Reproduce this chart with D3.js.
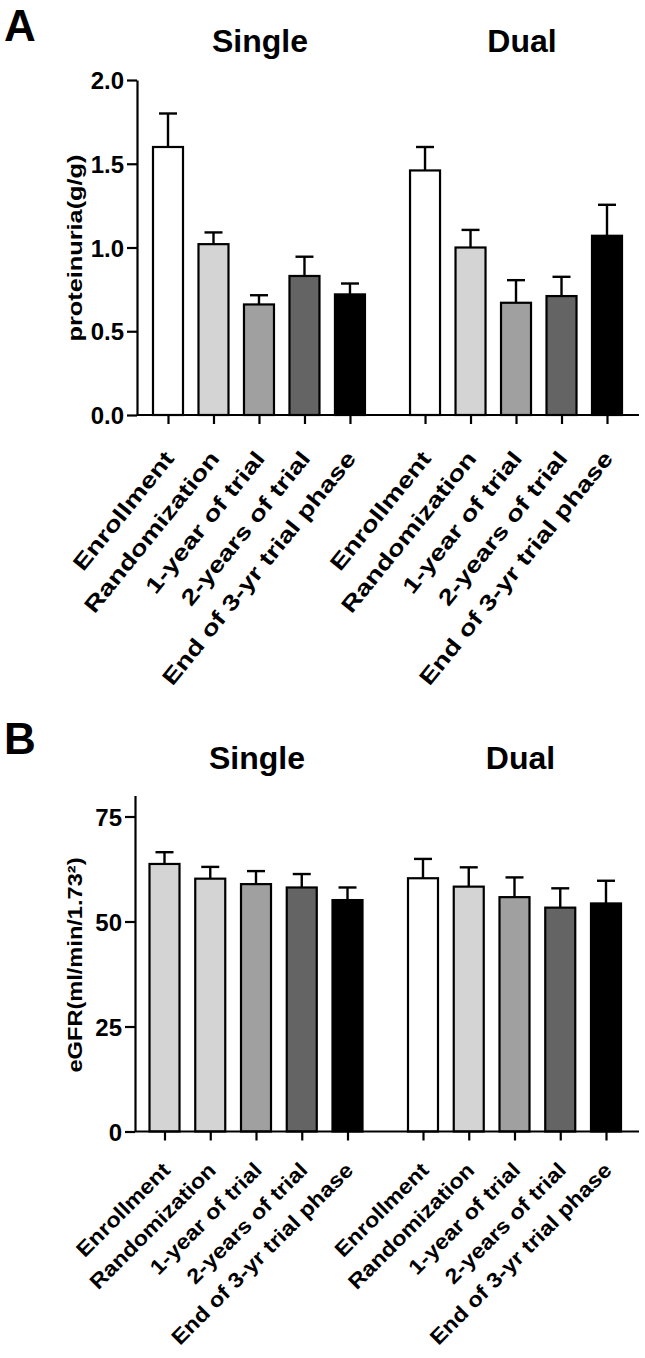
<!DOCTYPE html>
<html>
<head>
<meta charset="utf-8">
<script src="https://cdn.jsdelivr.net/npm/d3@7"></script>
<style>
  body { margin: 0; background: white; }
  text { font-family: "Liberation Sans", Arial, sans-serif; }
</style>
</head>
<body>
<script>
// data (mean, SEM)
const groups = ["Single", "Dual"];
const timepoints = ["Enrollment", "Randomization", "1-year of trial", "2-years of trial", "End of 3-yr trial phase"];

const protSingle = [1.60, 1.02, 0.66, 0.83, 0.72];
const protSingleSem = [0.20, 0.07, 0.055, 0.115, 0.065];
const protDual = [1.46, 1.00, 0.67, 0.71, 1.07];
const protDualSem = [0.14, 0.105, 0.135, 0.115, 0.185];

const egfrSingle = [63.7, 60.2, 58.9, 58.1, 55.1];
const egfrSingleSem = [2.8, 2.8, 3.1, 3.2, 3.0];
const egfrDual = [60.3, 58.3, 55.8, 53.3, 54.3];
const egfrDualSem = [4.6, 4.6, 4.7, 4.6, 5.4];

const protTicks = [0, 0.5, 1.0, 1.5, 2.0];
const egfrTicks = [0, 25, 50, 75];

const fillsA = ["#ffffff", "#d4d4d4", "#a0a0a0", "#646464", "#000000"];
const fillsBSingle = ["#d4d4d4", "#d4d4d4", "#a0a0a0", "#646464", "#000000"];
const fillsBDual = ["#ffffff", "#d4d4d4", "#a0a0a0", "#646464", "#000000"];

const W = 645, H = 1358;
const svg = d3.select("body").append("svg").attr("width", W).attr("height", H);
svg.append("rect").attr("width", W).attr("height", H).attr("fill", "white");

const groupGap = 5.65; // slot offset of second group
const barW = 30, capW = 18;

function panel(o) {
  const g = svg.append("g");
  const y = d3.scaleLinear().domain(o.domain).range([o.y0, o.y1]);
  const x = d3.scaleLinear().domain([0, 4 + groupGap]).range(o.xr);

  const rows = [];
  o.series.forEach((s, gi) => {
    s.values.forEach((v, i) => {
      rows.push({ slot: gi * groupGap + i, v: v, sem: s.sem[i], fill: s.fills[i], label: timepoints[i] });
    });
  });

  // bars
  g.selectAll("rect.bar").data(rows).join("rect")
    .attr("class", "bar")
    .attr("x", d => x(d.slot) - barW / 2)
    .attr("y", d => y(d.v))
    .attr("width", barW)
    .attr("height", d => y(0) - y(d.v))
    .attr("fill", d => d.fill)
    .attr("stroke", "black")
    .attr("stroke-width", 2.2);

  // error bars (upper only)
  g.selectAll("line.err").data(rows).join("line")
    .attr("x1", d => x(d.slot)).attr("x2", d => x(d.slot))
    .attr("y1", d => y(d.v)).attr("y2", d => y(d.v + d.sem))
    .attr("stroke", "black").attr("stroke-width", 2.4);
  g.selectAll("line.cap").data(rows).join("line")
    .attr("x1", d => x(d.slot) - capW / 2).attr("x2", d => x(d.slot) + capW / 2)
    .attr("y1", d => y(d.v + d.sem)).attr("y2", d => y(d.v + d.sem))
    .attr("stroke", "black").attr("stroke-width", 2.4);

  // y axis
  const ya = g.append("g").attr("transform", `translate(${o.axisX},0)`)
    .call(d3.axisLeft(y).tickValues(o.ticks).tickFormat(o.fmt).tickSize(10).tickPadding(3).tickSizeOuter(0));
  ya.select(".domain").attr("stroke-width", 2.2);
  ya.selectAll(".tick line").attr("stroke-width", 2.2);
  ya.selectAll(".tick text").attr("font-size", 24).attr("font-weight", "bold")
    .attr("font-family", "Liberation Sans, Arial, sans-serif").attr("fill", "black")
    .attr("dy", "0.36em");

  // x axis
  const xa = g.append("g").attr("transform", `translate(0,${y(0)})`)
    .call(d3.axisBottom(x).tickValues(rows.map(d => d.slot)).tickFormat("").tickSize(9).tickSizeOuter(0));
  xa.select(".domain").remove();
  xa.selectAll(".tick line").attr("stroke-width", 2.2);
  g.append("line").attr("x1", o.axisX).attr("x2", 639)
    .attr("y1", y(0)).attr("y2", y(0)).attr("stroke", "black").attr("stroke-width", 2.2);

  // rotated category labels
  g.selectAll("text.cat").data(rows).join("text")
    .attr("class", "cat")
    .attr("transform", d => `translate(${x(d.slot) + 7},${y(0) + o.catDy}) rotate(${o.catAngle}) scale(${o.catScale},1)`)
    .attr("text-anchor", "end")
    .attr("font-size", o.catSize).attr("font-weight", "bold")
    .text(d => d.label);

  // y label
  g.append("text")
    .attr("transform", `translate(82,${o.labelY}) rotate(-90)`)
    .attr("text-anchor", "middle")
    .attr("font-size", 21).attr("font-weight", "bold")
    .attr("textLength", o.labelLen).attr("lengthAdjust", "spacingAndGlyphs")
    .text(o.label);

  // group titles
  groups.forEach((name, gi) => {
    g.append("text")
      .attr("x", x(gi * groupGap + 2) + (gi ? 6 : 1)).attr("y", o.titleY)
      .attr("text-anchor", "middle").attr("font-size", 32).attr("font-weight", "bold")
      .text(name);
  });

  g.append("text").attr("x", 4).attr("y", o.letterY)
    .attr("font-size", 44).attr("font-weight", "bold").text(o.letter);
}

panel({
  letter: "A", letterY: 41, titleY: 52,
  domain: [0, 2], y0: 415, y1: 80, xr: [168, 607], axisX: 137,
  ticks: protTicks, fmt: d3.format(".1f"),
  label: "proteinuria(g/g)", labelY: 248, labelLen: 187,
  catDy: 44, catAngle: -51, catScale: 1.27, catSize: 22,
  series: [
    { values: protSingle, sem: protSingleSem, fills: fillsA },
    { values: protDual, sem: protDualSem, fills: fillsA }
  ]
});

panel({
  letter: "B", letterY: 754, titleY: 769,
  domain: [0, 80], y0: 1131.5, y1: 795.5, xr: [164.5, 606], axisX: 135,
  ticks: egfrTicks, fmt: d3.format("d"),
  label: "eGFR(ml/min/1.73²)", labelY: 965, labelLen: 215,
  catDy: 40, catAngle: -45, catScale: 1.12, catSize: 21,
  series: [
    { values: egfrSingle, sem: egfrSingleSem, fills: fillsBSingle },
    { values: egfrDual, sem: egfrDualSem, fills: fillsBDual }
  ]
});
</script>
</body>
</html>
